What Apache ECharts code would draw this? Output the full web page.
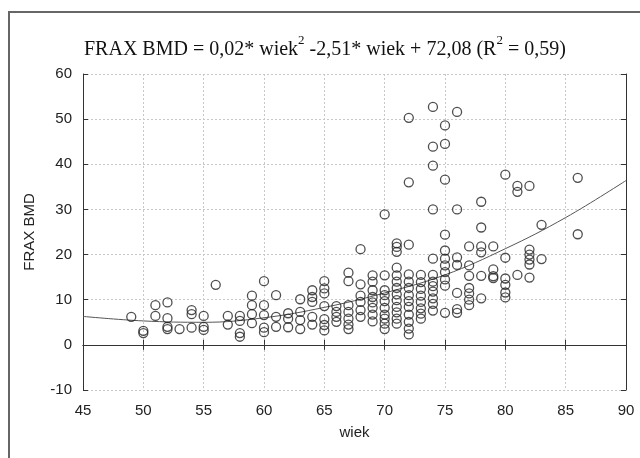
<!DOCTYPE html>
<html>
<head>
<meta charset="utf-8">
<style>
  html, body { margin: 0; padding: 0; background: #fff; }
  #chart { width: 640px; height: 458px; }
</style>
<script src="https://cdn.jsdelivr.net/npm/echarts@6/dist/echarts.min.js"></script>
</head>
<body>
<div id="chart"></div>
<script>
// wiek (x) -> lista wartości FRAX BMD
const ages = [49, 50, 51, 52, 53, 54, 55, 56, 57, 58, 59, 60, 61, 62, 63, 64, 65, 66, 67, 68,
  69, 70, 71, 72, 73, 74, 75, 76, 77, 78, 79, 80, 81, 82, 83, 86]
const fraxByAge = [
  [6.2],
  [3.1, 2.6],
  [8.8, 6.4],
  [9.4, 5.9, 4.0, 3.5],
  [3.5],
  [7.7, 6.8, 3.8],
  [6.4, 4.0, 3.3],
  [13.3],
  [6.4, 4.5],
  [6.4, 5.3, 2.6, 1.8],
  [10.9, 8.8, 6.8, 4.8],
  [14.1, 8.8, 6.6, 3.8, 2.8],
  [11.0, 6.2, 4.0],
  [7.0, 5.8, 3.9],
  [10.1, 7.3, 5.5, 3.5],
  [12.1, 10.6, 9.5, 6.2, 4.5],
  [14.1, 12.5, 11.4, 8.6, 5.7, 4.4, 3.2],
  [8.6, 7.3, 6.2, 5.1],
  [16.0, 14.1, 8.8, 7.3, 5.8, 4.5, 3.5],
  [21.2, 13.4, 10.9, 9.5, 7.7, 6.2],
  [15.4, 14.0, 12.1, 10.6, 9.4, 8.2, 6.7, 5.2],
  [28.9, 15.4, 12.1, 11.0, 9.7, 8.2, 6.7, 5.8, 4.7, 3.5],
  [22.5, 21.7, 20.6, 17.1, 15.4, 14.0, 12.6, 11.2, 9.9, 8.4, 7.2, 5.8, 4.7],
  [50.3, 36.0, 22.2, 15.6, 14.0, 12.6, 11.0, 9.7, 8.4, 6.7, 5.1, 3.6, 2.3],
  [15.5, 13.9, 12.4, 10.9, 9.5, 8.1, 6.9, 5.8],
  [52.7, 43.9, 39.7, 30.0, 19.1, 15.5, 14.0, 13.0, 11.8, 10.3, 9.1, 7.6],
  [48.6, 44.5, 36.6, 24.4, 20.9, 19.1, 17.6, 16.1, 14.5, 13.1, 7.1],
  [51.6, 30.0, 19.4, 17.7, 11.5, 7.9, 7.1],
  [21.8, 17.6, 15.3, 12.6, 11.4, 10.0, 8.8],
  [31.7, 26.0, 21.8, 20.5, 15.3, 10.3],
  [21.8, 16.7, 15.2, 14.8],
  [37.7, 19.3, 14.7, 13.3, 11.6, 10.5],
  [35.2, 33.9, 15.5],
  [35.2, 21.1, 20.0, 18.9, 17.8, 14.9],
  [26.6, 19.0],
  [37.0, 24.5]
]

// krzywa dopasowania
const fitAges = [45, 50, 55, 60, 65, 70, 75, 80, 85, 90]
const fitFrax = [6.3, 5.3, 5.0, 6.0, 8.3, 11.5, 15.5, 21.3, 28.2, 36.4]

const xTicks = { min: 45, max: 90, step: 5 }
const yTicks = { min: -10, max: 60, step: 10 }

const points = []
ages.forEach((a, i) => {
  fraxByAge[i].forEach(v => points.push([a, v]))
})
const fitLine = fitAges.map((a, i) => [a, fitFrax[i]])

const chart = echarts.init(document.getElementById('chart'))

const axisBase = {
  axisLine: { show: true, lineStyle: { color: '#333', width: 1 } },
  axisTick: { show: true, inside: true, length: 5, lineStyle: { color: '#333' } }
}

chart.setOption({
  animation: false,
  title: {
    left: 84,
    top: 34,
    padding: 0,
    text: '{a|FRAX BMD = 0,02* wiek}{s|2}{a| -2,51* wiek + 72,08 (R}{s|2}{a| = 0,59)}',
    textStyle: {
      fontWeight: 'normal',
      rich: {
        a: { fontFamily: 'Liberation Serif', fontSize: 20, fontWeight: 'normal', color: '#111', lineHeight: 26, verticalAlign: 'bottom' },
        s: { fontFamily: 'Liberation Serif', fontSize: 13, fontWeight: 'normal', color: '#111', lineHeight: 14, verticalAlign: 'top' }
      }
    }
  },
  graphic: [{
    type: 'rect',
    z: -1,
    shape: { x: 9, y: 12, width: 700, height: 520 },
    style: { fill: 'none', stroke: '#666', lineWidth: 2 }
  }],
  grid: { left: 83, top: 74, right: 14, bottom: 68 },
  xAxis: [
    Object.assign({}, axisBase, {
      type: 'value',
      min: xTicks.min, max: xTicks.max, interval: xTicks.step,
      name: 'wiek',
      nameLocation: 'middle',
      nameGap: 35,
      nameTextStyle: { fontFamily: 'Liberation Sans', fontSize: 15, color: '#222' },
      axisLabel: { fontFamily: 'Liberation Sans', fontSize: 15, color: '#222', margin: 13 },
      splitLine: { show: true, lineStyle: { color: '#c8c8c8', type: [2, 2] } }
    }),
    Object.assign({}, axisBase, {
      type: 'value', position: 'top',
      min: xTicks.min, max: xTicks.max, interval: xTicks.step,
      axisLabel: { show: false },
      splitLine: { show: false }
    })
  ],
  yAxis: [
    Object.assign({}, axisBase, {
      type: 'value',
      min: yTicks.min, max: yTicks.max, interval: yTicks.step,
      name: 'FRAX BMD',
      nameLocation: 'middle',
      nameGap: 46,
      nameTextStyle: { fontFamily: 'Liberation Sans', fontSize: 15, color: '#222' },
      axisLabel: { fontFamily: 'Liberation Sans', fontSize: 15, color: '#222', margin: 11 },
      splitLine: { show: true, lineStyle: { color: '#c8c8c8', type: [2, 2] } }
    }),
    Object.assign({}, axisBase, {
      type: 'value', position: 'right',
      min: yTicks.min, max: yTicks.max, interval: yTicks.step,
      axisLabel: { show: false },
      splitLine: { show: false }
    })
  ],
  series: [
    {
      type: 'scatter',
      data: points,
      symbol: 'circle',
      symbolSize: 9,
      itemStyle: { color: 'rgba(255,255,255,0)', borderColor: '#222', borderWidth: 1.3 }
    },
    {
      type: 'line',
      data: fitLine,
      smooth: 0.4,
      symbol: 'none',
      lineStyle: { color: '#555', width: 1 },
      z: 1
    }
  ]
})
</script>
</body>
</html>
